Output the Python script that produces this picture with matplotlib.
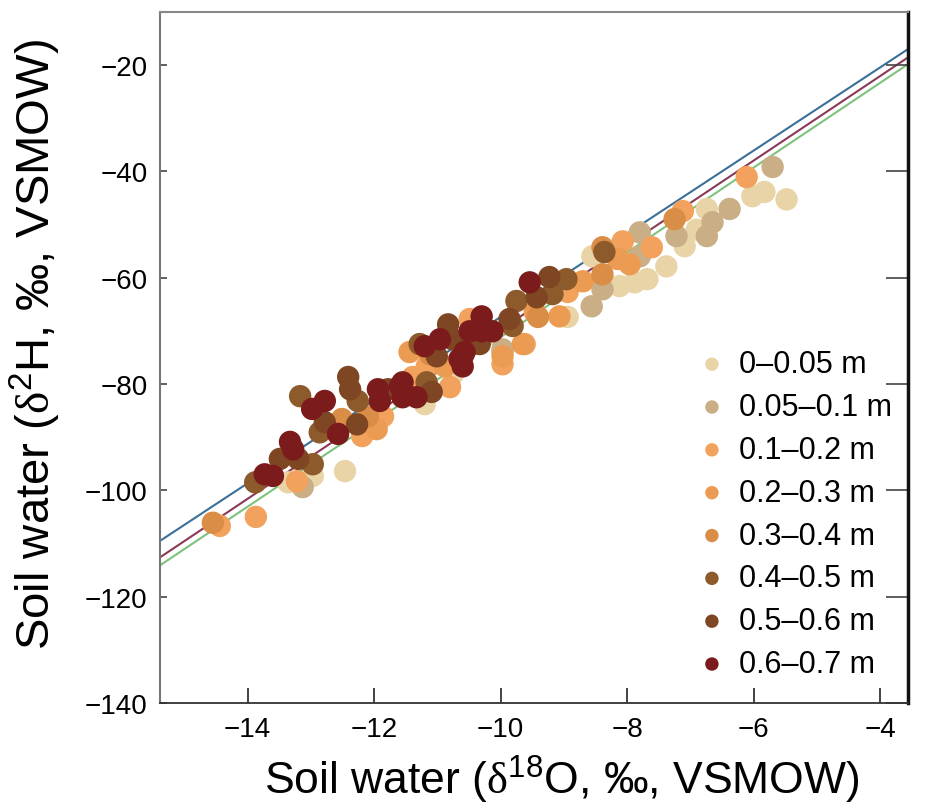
import numpy as np
import matplotlib.pyplot as plt

plt.rcParams['font.family'] = ['Liberation Sans', 'DejaVu Sans']
plt.rcParams['mathtext.fontset'] = 'custom'
plt.rcParams['mathtext.rm'] = 'Liberation Serif'
plt.rcParams['mathtext.sf'] = 'Liberation Sans'

depths = ['0\u20130.05 m', '0.05\u20130.1 m', '0.1\u20130.2 m', '0.2\u20130.3 m',
          '0.3\u20130.4 m', '0.4\u20130.5 m', '0.5\u20130.6 m', '0.6\u20130.7 m']
colors = ['#e9d4a8', '#c9ae86', '#f2a25c', '#ec9b52', '#da8d47',
          '#8d5b2b', '#7f4623', '#7b1b1c']

# d18O / d2H pairs for each depth interval
d0 = [(-13.36, -98.5), (-12.97, -97.3), (-12.46, -96.4), (-11.2, -83.8), (-10.76, -78.2),
      (-6.02, -44.7), (-5.83, -43.9), (-5.48, -45.3), (-6.74, -47.1), (-7.09, -54.1),
      (-7.38, -57.9), (-7.68, -60.3), (-7.88, -60.9), (-8.12, -61.6), (-8.55, -56.0),
      (-8.94, -67.4), (-10.17, -70.6), (-6.9, -51.0)]
d1 = [(-13.13, -99.4), (-9.97, -74.0), (-5.70, -39.2), (-6.38, -47.1), (-6.65, -49.6),
      (-6.74, -52.2), (-7.22, -52.2), (-7.8, -51.5), (-7.8, -56.0), (-8.39, -62.2),
      (-8.56, -65.4), (-9.97, -73.5)]
d2 = [(-14.44, -106.7), (-13.87, -105.0), (-13.22, -98.3), (-12.19, -89.8), (-11.86, -86.1),
      (-11.39, -78.7), (-11.17, -76.8), (-10.8, -80.6), (-9.97, -76.3), (-6.11, -41.1),
      (-7.12, -47.5), (-7.61, -54.3), (-8.07, -53.2), (-8.94, -62.7), (-9.62, -72.5),
      (-10.49, -67.8)]
d3 = [(-11.96, -88.5), (-11.44, -74.0), (-10.88, -76.7), (-9.65, -72.5), (-7.96, -57.5),
      (-8.15, -56.5), (-8.7, -60.7), (-9.46, -66.5), (-9.07, -67.3), (-9.97, -74.8)]
d4 = [(-14.55, -106.1), (-12.51, -86.6), (-12.1, -86.1), (-7.25, -49.0), (-8.39, -54.3),
      (-8.39, -59.4), (-9.41, -67.4), (-11.12, -74.4)]
d5 = [(-13.88, -98.5), (-12.97, -95.1), (-12.86, -89.1), (-13.17, -82.3), (-12.26, -83.2),
      (-11.17, -79.7), (-8.36, -55.2), (-8.96, -60.3), (-9.18, -63.1), (-9.75, -64.4),
      (-9.81, -69.1), (-11.28, -72.5)]
d6 = [(-13.49, -94.1), (-13.2, -94.1), (-12.78, -87.2), (-12.27, -87.6), (-12.41, -78.7),
      (-12.38, -81.0), (-11.78, -81.0), (-11.09, -81.5), (-11.01, -74.8), (-9.23, -59.9),
      (-9.43, -63.7), (-10.76, -71.6), (-9.86, -67.8), (-10.83, -68.8), (-10.33, -72.5)]
d7 = [(-13.73, -97.0), (-13.6, -97.3), (-13.33, -90.9), (-13.28, -92.3), (-12.57, -89.4),
      (-12.98, -84.7), (-12.78, -83.2), (-11.94, -81.0), (-11.91, -83.2), (-11.59, -80.4),
      (-11.55, -82.5), (-11.55, -79.7), (-11.33, -82.5), (-11.2, -72.9), (-10.65, -75.3),
      (-10.57, -74.0), (-10.6, -76.7), (-9.54, -60.9), (-10.3, -67.3), (-10.49, -70.1),
      (-10.13, -70.1), (-10.3, -70.1), (-10.6, -74.8), (-10.96, -71.6)]
groups = [d0, d1, d2, d3, d4, d5, d6, d7]

# water lines: slope, intercept
lines = [(7.82, 10.8, '#3b6f97'), (7.95, 9.7, '#8a3a55'), (7.97, 8.5, '#7dc27d')]

fig = plt.figure(figsize=(9.25, 8.12), dpi=100)
ax = fig.add_axes([0.173, 0.133, 0.8086, 0.8504])
xlim = (-15.385, -3.56)
ylim = (-140, -10.15)

xx = np.array(xlim)
for slope, icpt, c in lines:
    ax.plot(xx, slope * xx + icpt, color=c, lw=1.5, zorder=1)

for pts, lab, c in zip(groups, depths, colors):
    pts = np.array(pts)
    ax.scatter(pts[:, 0], pts[:, 1], s=260, color=c, edgecolors='none', label=lab, zorder=2)

ax.set_xlim(xlim)
ax.set_ylim(ylim)
ax.set_xticks([-14, -12, -10, -8, -6, -4])
ax.set_yticks([-140, -120, -100, -80, -60, -40, -20])
ax.set_xticklabels(['\u221214', '\u221212', '\u221210', '\u22128', '\u22126', '\u22124'])
ax.set_yticklabels(['\u2212140', '\u2212120', '\u2212100', '\u221280', '\u221260', '\u221240', '\u221220'])

ax.tick_params(axis='x', direction='in', length=11, width=1.2, labelsize=20, pad=9, color='#222222')
ax.tick_params(axis='y', direction='in', length=5, width=1.2, labelsize=20, pad=9, color='#444444')
ax.tick_params(axis='y', which='major', right=True, labelright=False)
for t in ax.yaxis.get_ticklines()[1::2]:
    t.set_marker(0)
    t.set_markersize(16)
    t.set_markeredgewidth(1.2)
    t.set_color('#222222')

ax.spines['left'].set_color('#777777')
ax.spines['left'].set_linewidth(1.5)
ax.spines['top'].set_color('#888888')
ax.spines['top'].set_linewidth(1.5)
ax.spines['bottom'].set_color('#333333')
ax.spines['bottom'].set_linewidth(1.3)
ax.spines['right'].set_color('#111111')
ax.spines['right'].set_linewidth(2.5)

permil = '\u2030'
ax.set_xlabel(r'Soil water ($\mathrm{\delta}^{\mathsf{18}}$O, ' + permil + ', VSMOW)',
              fontsize=32, labelpad=8)
ax.set_ylabel(r'Soil water ($\mathrm{\delta}^{\mathsf{2}}$H, ' + permil + ', VSMOW)',
              fontsize=34, labelpad=16)
ax.xaxis.label.set_x(0.537)
ax.yaxis.label.set_y(0.52)

leg = ax.legend(loc='lower left', frameon=False, fontsize=22, markerscale=0.6,
                labelspacing=0.42, handlelength=1.2, handletextpad=0.3,
                borderaxespad=0.0, bbox_to_anchor=(0.697, 0.017))

fig.savefig('out.png', dpi=100)
